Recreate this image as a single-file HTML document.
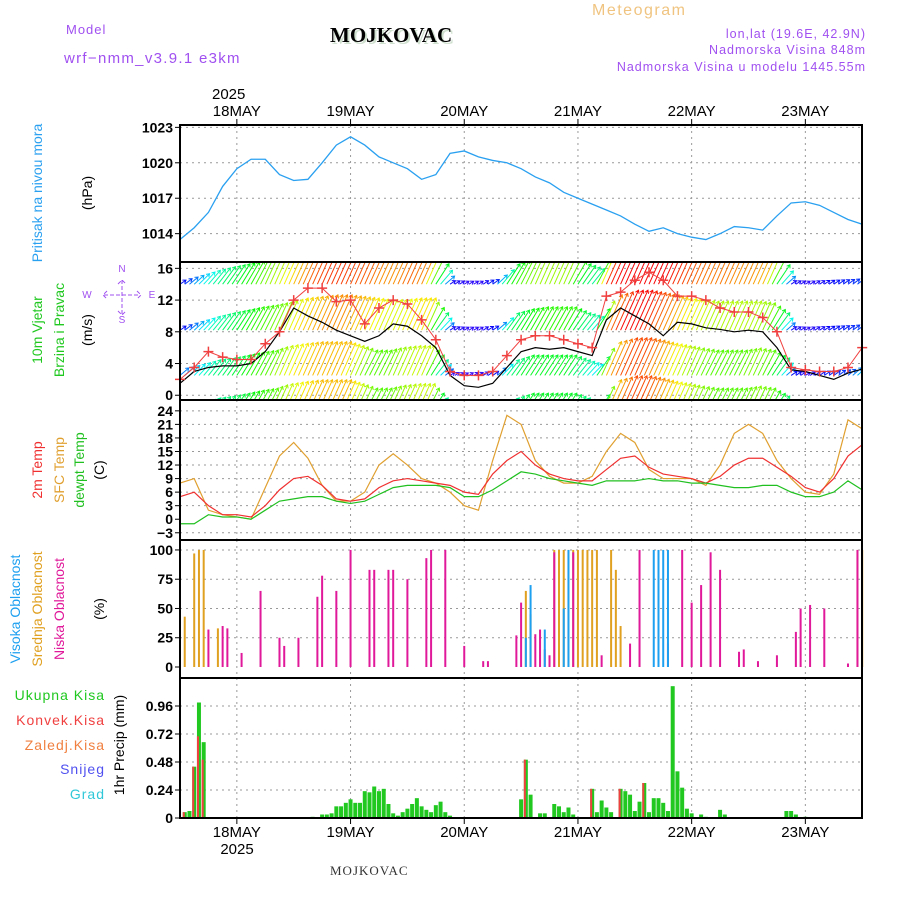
<!DOCTYPE html>
<html><head><meta charset="utf-8"><style>
body{margin:0;background:#fff}
svg{display:block;font-family:"Liberation Sans",sans-serif}
</style></head><body>
<svg id="c" width="900" height="900" viewBox="0 0 900 900">
<defs><clipPath id="wclip"><rect x="180" y="262" width="682" height="138"/></clipPath></defs>
<text x="592" y="15" fill="#f0c480" font-size="16" letter-spacing="1.5">Meteogram</text>
<text x="66" y="34" fill="#a050f0" font-size="13" letter-spacing="1">Model</text>
<text x="64" y="63" fill="#a050f0" font-size="15" letter-spacing="1.3">wrf−nmm_v3.9.1 e3km</text>
<text x="332" y="44" font-family="Liberation Serif,serif" font-weight="bold" font-size="21" fill="#cfe0cf">MOJKOVAC</text>
<text x="330" y="42" font-family="Liberation Serif,serif" font-weight="bold" font-size="21" fill="#000">MOJKOVAC</text>
<text x="866" y="38" text-anchor="end" fill="#a050f0" font-size="12.5" letter-spacing="1">lon,lat (19.6E, 42.9N)</text>
<text x="866" y="54" text-anchor="end" fill="#a050f0" font-size="12.5" letter-spacing="1">Nadmorska Visina 848m</text>
<text x="866" y="71" text-anchor="end" fill="#a050f0" font-size="12.5" letter-spacing="1">Nadmorska Visina u modelu 1445.55m</text>
<text x="212" y="99" font-size="15" fill="#000">2025</text>
<text x="849" y="633" fill="#d8e0d8" font-size="14" font-family="Liberation Serif,serif" transform="rotate(-90 884 590)">made by Angel</text>
<text x="330" y="875" font-family="Liberation Serif,serif" font-size="13" fill="#333" letter-spacing="1">MOJKOVAC</text>
<g id="g"></g>
</svg>
<script>
const days=["18MAY","19MAY","20MAY","21MAY","22MAY","23MAY"];
const pres=[1013.5,1014.5,1015.8,1018,1019.5,1020.3,1020.3,1019,1018.5,1018.6,1020,1021.5,1022.2,1021.5,1020.5,1020,1019.5,1018.6,1019,1020.8,1021,1020.5,1020.2,1020,1019.5,1018.8,1018.3,1017.5,1017,1016.5,1016,1015.5,1014.8,1014.2,1014.5,1014,1013.7,1013.5,1014,1014.6,1014.5,1014.3,1015.5,1016.6,1016.7,1016.4,1015.8,1015.2,1014.8];
const wspd=[1.5,3,3.5,3.7,3.7,4,5.5,8,11,10,9.2,8.2,7.5,6.8,7.5,9,8.7,7.5,6,2.5,1.2,1,1.5,3.5,5.5,6,5.8,6,5.5,5,9.5,11,10,9,7.5,9.2,9,8.5,8.3,8,8.2,8,6,3.2,3,2.5,2,2.8,3.3];
const gust=[2,3.5,5.5,4.8,4.5,4.5,6.5,8,12,13.5,13.5,11.8,12,9,11,12,11.5,9.5,7,3,2.5,2.5,3,5,7,7.5,7.5,7,6.5,6,12.5,13,14.5,15.5,14.5,12.5,12.5,12,11,10.5,10.5,9.8,8,3.5,3.2,3,3,3.5,6];
const barbLow=[1,1.5,2,2.2,2.5,2.8,3,3.5,3.8,4,4,4,3.5,3,3,3.3,3.5,3.5,2,0.3,0.2,0.3,0.5,2,2.5,2.5,2.5,2.5,2,1.5,4,4.5,4.5,4.2,3.8,3.5,3.2,3,3,3,3.2,3,2.2,0.5,0.3,0.5,0.6,0.8,1.5];
const barbMid=[0.5,1.2,1.8,2.2,2.5,2.8,3,3.3,3.8,4,4.2,4.2,4,3.8,3.6,3.6,3.8,3.8,2.2,0.4,0.3,0.3,0.5,2.2,2.6,2.8,2.8,2.8,2.2,1.8,4.2,4.8,4.8,4.5,4.2,3.8,3.6,3.4,3.4,3.4,3.4,3.2,2.2,0.4,0.3,0.4,0.5,0.6,0.8];
const barbTop=[0.5,1.2,1.8,2.2,2.5,2.8,3.2,3.6,4,4.4,4.6,4.6,4.5,4.4,4.2,4.2,4.4,4.2,2.5,0.4,0.3,0.3,0.6,2.5,3,3.3,3.3,3.3,2.5,2,4.6,5,5,5,4.8,4.6,4.4,4.3,4.3,4.2,4.2,4,2.4,0.4,0.3,0.4,0.5,0.6,0.8];
const t2m=[5,6,3,1,1,0.5,3,6.5,9,9.5,7.5,4.5,4,4.5,7,8.5,9,8.5,8,7.5,6,5.5,10,13,15,12,10,9,8.5,8.5,11,13.5,14,11.5,10,9.5,9,8,9.5,12,13.5,13.5,11.5,9.5,7,6,9,14,16.5];
const tsfc=[8,9,2,1,0.5,0,7,14,17,13.5,7.5,4,4,6,12,14.5,12,9,8,6,3,2,13,23,21,13,9.5,8,8,9.5,15,19,17,11,9,9,9,7.5,12,19,21,19,13,9,6,5.5,10,22,20];
const tdew=[-1,-1,1,0.5,0.5,0,2,4,4.5,5,5,4,3.5,4,5.5,7,7.5,7.5,7.5,7,5,5,6.5,8.5,10.5,10,9,8.5,8,7.5,8.5,8.5,8.5,9,8.5,8.5,8,8,7.5,7,7,7.5,7.5,6,5,5,6,8.5,6.5];
const cloudLow=[[6,32],[9,35],[10,33],[13,12],[17,65],[21,25],[22,18],[25,25],[29,60],[30,78],[33,65],[36,100],[40,83],[41,83],[44,83],[45,83],[48,75],[52,93],[53,100],[56,100],[60,18],[64,5],[65,5],[71,27],[72,55],[75,28],[76,32],[77,15],[78,10],[79,98],[83,98],[89,10],[95,20],[97,100],[103,20],[106,100],[108,55],[110,70],[112,98],[114,83],[118,13],[119,15],[122,5],[126,10],[130,30],[131,50],[133,53],[136,50],[141,3],[143,100]];
const cloudMid=[[1,43],[3,97],[4,100],[5,100],[8,33],[73,65],[74,45],[79,100],[80,100],[81,100],[82,100],[83,100],[84,100],[85,100],[86,100],[87,100],[88,100],[91,100],[92,83],[93,35],[143,100],[144,100]];
const cloudHigh=[[73,25],[74,70],[77,32],[81,50],[82,100],[100,100],[101,100],[102,100],[103,100]];
const precTot=[[1,0.05],[2,0.06],[3,0.44],[4,0.99],[5,0.65],[28,0.01],[30,0.03],[31,0.03],[32,0.04],[33,0.1],[34,0.1],[35,0.13],[36,0.16],[37,0.13],[38,0.13],[39,0.23],[40,0.22],[41,0.27],[42,0.23],[43,0.25],[44,0.12],[45,0.04],[46,0.02],[47,0.05],[48,0.08],[49,0.12],[50,0.17],[51,0.1],[52,0.07],[53,0.05],[54,0.11],[55,0.14],[56,0.05],[57,0.02],[72,0.16],[73,0.5],[74,0.2],[76,0.04],[77,0.04],[79,0.12],[80,0.1],[81,0.05],[82,0.09],[83,0.03],[87,0.25],[88,0.05],[89,0.15],[90,0.09],[91,0.05],[93,0.25],[94,0.23],[95,0.2],[96,0.06],[97,0.14],[98,0.3],[99,0.05],[100,0.17],[101,0.17],[102,0.13],[103,0.06],[104,1.13],[105,0.4],[106,0.26],[107,0.08],[108,0.04],[110,0.03],[111,0.01],[114,0.07],[115,0.03],[128,0.06],[129,0.06],[130,0.03],[132,0.01]];
const precConv=[[1,0.05],[3,0.44],[4,0.7],[5,0.5],[43,0.01],[73,0.5],[87,0.25],[93,0.25],[98,0.3]];

const NS="http://www.w3.org/2000/svg",G=document.getElementById('g');
function mk(t,a,p){const e=document.createElementNS(NS,t);for(const k in a)e.setAttribute(k,a[k]);(p||G).appendChild(e);return e;}
const X0=180,X1=862,PH=4.7375;
const xh=h=>X0+h*PH;
const xi=i=>xh(i*3);
const dayX=d=>X0+(12+24*d)*PH;
const panels=[[125,262,1011.6,1023.2],[262,400,-0.6,16.8],[400,540,-4.6,26.4],[540,678,-9.4,108.5],[678,818,0,1.2]];
const Y=(p,v)=>{const [t,b,lo,hi]=panels[p];return b-(v-lo)/(hi-lo)*(b-t);};
const ticks=[[1014,1017,1020,1023],[0,4,8,12,16],[-3,0,3,6,9,12,15,18,21,24],[0,25,50,75,100],[0,0.24,0.48,0.72,0.96]];
const pnames=['pressure-panel','wind-panel','temperature-panel','cloud-panel','precip-panel'];
panels.forEach((pp,p)=>{
  const g=mk('g',{});
  
  
  days.forEach((d,k)=>{const l=mk('line',{x1:dayX(k),x2:dayX(k),y1:pp[0],y2:pp[1],stroke:'#999','stroke-dasharray':'2,4'},g);
    });
  ticks[p].forEach(v=>{const y=Y(p,v);
    if(v!==0||p===1){const l=mk('line',{x1:X0,x2:X1,y1:y,y2:y,stroke:'#999','stroke-dasharray':'2,4'},g);}
    mk('line',{x1:X0-5,x2:X0,y1:y,y2:y,stroke:'#000'},g);
    const t=mk('text',{x:X0-7,y:y+5,'text-anchor':'end','font-size':14,'font-weight':'bold',fill:'#000'},g);t.textContent=String(v).replace('-','−');
    
  });
});
// pressure
let d='';pres.forEach((v,i)=>d+=(i?'L':'M')+xi(i)+','+Y(0,v));
let e=mk('path',{d,fill:'none',stroke:'#2aa0f0','stroke-width':1.3});

// wind barbs
const wg=mk('g',{'clip-path':'url(#wclip)'});

const col=s=>'hsl('+Math.max(0,265-s*55)+',95%,50%)';
const at=(arr,h)=>{const i=Math.floor(h/3),f=h/3-i;return i>=arr.length-1?arr[arr.length-1]:arr[i]*(1-f)+arr[i+1]*f;};
[[barbLow,-2.3],[barbLow,2.5],[barbMid,8.2],[barbTop,14]].forEach(([arr,base])=>{
  for(let h=0;h<=144;h++){const s=at(arr,h);const x=xh(h),y=Y(1,base),L=3+s*8.5;
    const ang=Math.min(1.15,0.5+s*0.2);
    const dx=L*Math.cos(ang),dy=L*Math.sin(ang);
    const x2=x+dx,y2=y-dy;
    const ux=dx/L,uy=-dy/L;
    const hx1=x2-3*ux+2*uy,hy1=y2-3*uy-2*ux,hx2=x2-3*ux-2*uy,hy2=y2-3*uy+2*ux;
    const a=mk('path',{d:`M${x},${y}L${x2},${y2}M${hx1},${hy1}L${x2},${y2}L${hx2},${hy2}`,stroke:col(s),'stroke-width':1,fill:'none'},wg);
    
  }
});
d='';wspd.forEach((v,i)=>d+=(i?'L':'M')+xi(i)+','+Y(1,v));
e=mk('path',{d,fill:'none',stroke:'#000','stroke-width':1.2});

d='';gust.forEach((v,i)=>d+=(i?'L':'M')+xi(i)+','+Y(1,v));
e=mk('path',{d,fill:'none',stroke:'#f04040','stroke-width':1});

gust.forEach((v,i)=>{const x=xi(i),y=Y(1,v);
  const c=mk('path',{d:`M${x-5},${y}H${x+5}M${x},${y-5}V${y+5}`,stroke:'#f04040','stroke-width':1.5});
  });
// temps
[[tsfc,'#e0a030','sfc-temp-line'],[t2m,'#f03030','2m-temp-line'],[tdew,'#20c020','dewpoint-line']].forEach(([a,c,n])=>{
  let d='';a.forEach((v,i)=>d+=(i?'L':'M')+xi(i)+','+Y(2,v));
  const p=mk('path',{d,fill:'none',stroke:c,'stroke-width':1.2});
  });
// clouds
[[cloudMid,'#e0a020','mid-cloud-bar'],[cloudLow,'#e0189a','low-cloud-bar'],[cloudHigh,'#1ea0f0','high-cloud-bar']].forEach(([a,c,n])=>{
  a.forEach(([h,v])=>{const y=Y(3,v);const r=mk('rect',{x:xh(h)-1,y:y,width:2,height:Y(3,0)-y,fill:c});
    });});
// precip
[[precTot,'#20c820','total-precip-bar'],[precConv,'#f04040','conv-precip-bar']].forEach(([a,c,n],k)=>{
  a.forEach(([h,v])=>{const y=Y(4,v);const r=mk('rect',{x:xh(h)-2,y:y,width:k?2:4,height:Y(4,0)-y,fill:c});
    });});
mk('line',{x1:X0,x2:X1,y1:818,y2:818,stroke:'#000','stroke-dasharray':'4,3'});
// frames & day labels
panels.forEach(pp=>{mk('rect',{x:X0,y:pp[0],width:X1-X0,height:pp[1]-pp[0],fill:'none',stroke:'#000','stroke-width':2});});
days.forEach((dd,k)=>{const x=dayX(k);
  mk('line',{x1:x,x2:x,y1:119,y2:125,stroke:'#000'});mk('line',{x1:x,x2:x,y1:818,y2:824,stroke:'#000'});
  let t=mk('text',{x:x,y:116,'text-anchor':'middle','font-size':15,fill:'#000'});t.textContent=dd;
  
  t=mk('text',{x:x,y:837,'text-anchor':'middle','font-size':15,fill:'#000'});t.textContent=dd;
  });
let t=mk('text',{x:237,y:854,'text-anchor':'middle','font-size':15,fill:'#000'});t.textContent='2025';

// rotated labels
const rl=[['Pritisak na nivou mora',42,193,'#2aa0f0'],['(hPa)',92,193,'#000'],['10m Vjetar',42,330,'#20c820'],['Brzina i Pravac',64,330,'#20c820'],['(m/s)',92,330,'#000'],
['2m Temp',42,470,'#f03030'],['SFC Temp',64,470,'#e0a030'],['dewpt Temp',84,470,'#20c020'],['(C)',104,470,'#000'],
['Visoka Oblacnost',20,609,'#1ea0f0'],['Srednja Oblacnost',42,609,'#e0a020'],['Niska Oblacnost',64,609,'#e0189a'],['(%)',104,609,'#000'],['1hr Precip (mm)',124,745,'#000']];
rl.forEach(([s,x,y,c])=>{const t=mk('text',{x:x,y:y,'text-anchor':'middle','font-size':14,fill:c,transform:`rotate(-90 ${x} ${y})`});t.textContent=s;
  });
[['Ukupna Kisa','#20c820',700],['Konvek.Kisa','#f04040',725],['Zaledj.Kisa','#f08040',750],['Snijeg','#5050f0',774],['Grad','#30c8d8',799]].forEach(([s,c,y])=>{
  const t=mk('text',{x:105,y:y,'text-anchor':'end','font-size':14,'letter-spacing':1,fill:c});t.textContent=s;
  });
// compass
const cg=mk('g',{fill:'#a050f0','font-size':10});

[['N',122,272],['S',122,323],['W',87,298],['E',152,298]].forEach(([s,x,y])=>{const t=mk('text',{x,y,'text-anchor':'middle'},cg);t.textContent=s;});
mk('path',{d:'M104,295H140M122,280V315M107,291L103,295L107,299M137,291L141,295L137,299M118,284L122,280L126,284M118,311L122,315L126,311',stroke:'#a050f0',fill:'none','stroke-dasharray':'4,2'},cg);
</script>
</body></html>
